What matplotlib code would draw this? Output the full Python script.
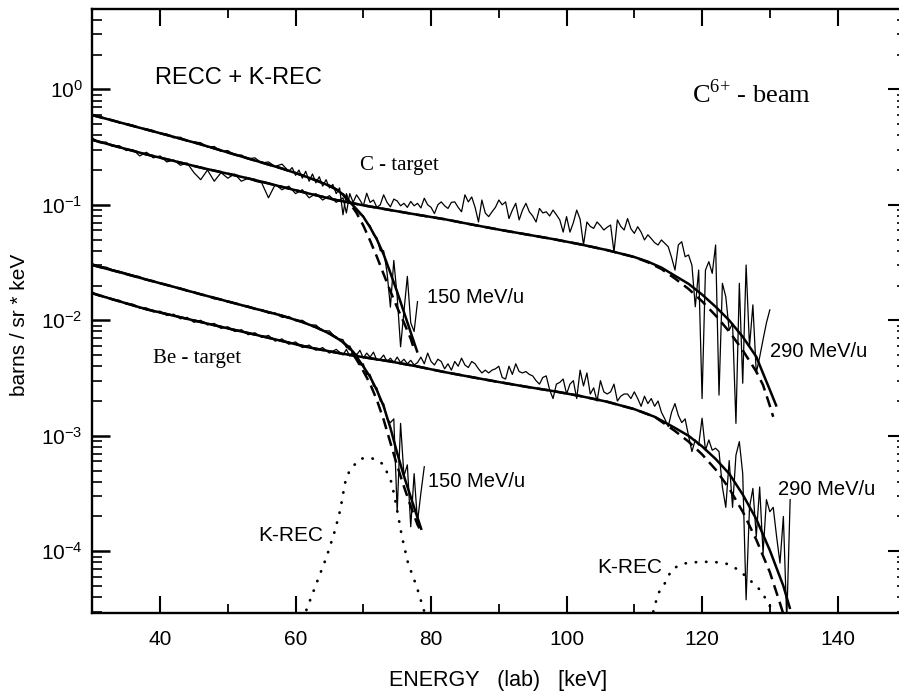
import numpy as np
import matplotlib
matplotlib.use('Agg')
import matplotlib.pyplot as plt
from matplotlib.ticker import MultipleLocator, LogLocator, NullFormatter

plt.rcParams['font.family'] = ['Liberation Sans', 'DejaVu Sans']
plt.rcParams['mathtext.fontset'] = 'custom'
plt.rcParams['mathtext.rm'] = 'Liberation Sans'
plt.rcParams['mathtext.it'] = 'Liberation Sans:italic'
plt.rcParams['mathtext.bf'] = 'Liberation Sans:bold'
plt.rcParams['axes.unicode_minus'] = False

# ---------------- measured spectra (thin lines) ----------------
# coarse part: 1 keV channels from 30 keV; fine part: 0.5 keV channels
c150_coarse = [0.61, 0.585, 0.56, 0.545, 0.51, 0.505, 0.49, 0.46, 0.455, 0.44,
               0.415, 0.41, 0.38, 0.385, 0.355, 0.35, 0.345, 0.315, 0.32, 0.29,
               0.295, 0.27, 0.27, 0.25, 0.255, 0.23, 0.235, 0.215, 0.225, 0.195]
c150_fine_start = 59.5
c150_fine = [0.21, 0.18, 0.20, 0.17, 0.195, 0.16, 0.185, 0.155, 0.175, 0.145,
             0.165, 0.14, 0.15, 0.125, 0.14, 0.082, 0.125, 0.105, 0.098, 0.09,
             0.083, 0.08, 0.07, 0.066, 0.055, 0.052, 0.04, 0.04, 0.026, 0.013,
             0.033, 0.016, 0.0059, 0.012, 0.024, 0.0095, 0.008, 0.0145]

c290_coarse = [0.38, 0.345, 0.35, 0.32, 0.325, 0.295, 0.30, 0.265, 0.285, 0.255,
               0.265, 0.235, 0.245, 0.22, 0.23, 0.19, 0.165, 0.20, 0.16, 0.19,
               0.17, 0.185, 0.16, 0.17, 0.16, 0.155, 0.115, 0.15, 0.135, 0.145,
               0.125, 0.135, 0.115, 0.125, 0.11, 0.12, 0.105, 0.115]
c290_fine_start = 67.5
c290_fine = [0.085, 0.125, 0.105, 0.122, 0.11, 0.098, 0.126, 0.105, 0.11, 0.095,
             0.10, 0.122, 0.105, 0.096, 0.112, 0.108, 0.098, 0.103, 0.095, 0.107,
             0.098, 0.103, 0.094, 0.114, 0.10, 0.095, 0.084, 0.10, 0.106, 0.098,
             0.093, 0.105, 0.106, 0.095, 0.087, 0.122, 0.106, 0.117, 0.095, 0.071,
             0.11, 0.085, 0.079, 0.087, 0.095, 0.11, 0.10, 0.106, 0.076, 0.09,
             0.103, 0.074, 0.09, 0.103, 0.087, 0.08, 0.071, 0.093, 0.085, 0.087,
             0.08, 0.09, 0.082, 0.074, 0.058, 0.079, 0.058, 0.07, 0.09, 0.075,
             0.045, 0.071, 0.065, 0.0625, 0.071, 0.066, 0.0605, 0.064, 0.0668, 0.039,
             0.074, 0.065, 0.0605, 0.076, 0.062, 0.0566, 0.0646, 0.058, 0.0496, 0.055,
             0.051, 0.047, 0.0449, 0.0496, 0.0464, 0.0434, 0.035, 0.0272, 0.045, 0.0479,
             0.0355, 0.0368, 0.03, 0.0131, 0.0272, 0.0021, 0.0272, 0.0322, 0.0255, 0.0449,
             0.00225, 0.0209, 0.016, 0.0082, 0.0094, 0.00128, 0.0209, 0.00285, 0.0301, 0.0059,
             0.0136, 0.0035, 0.0048, 0.0068, 0.0095, 0.0123]

be150_coarse = [0.031, 0.0293, 0.0289, 0.0274, 0.0266, 0.0256, 0.0246, 0.0239, 0.0223, 0.0221,
                0.0208, 0.0203, 0.0193, 0.0190, 0.0178, 0.0176, 0.0167, 0.0163, 0.0153, 0.0153,
                0.0143, 0.0142, 0.0134, 0.0133, 0.0124, 0.0124, 0.0115, 0.0116, 0.0106, 0.0108,
                0.0099, 0.0100, 0.0091, 0.0091, 0.0081, 0.0081, 0.0070, 0.0068]
be150_fine_start = 67.5
be150_fine = [0.0058, 0.0060, 0.0050, 0.0051, 0.0041, 0.0042, 0.0034, 0.0034, 0.0027, 0.0026,
              0.0020, 0.0019, 0.0014, 0.0013, 0.0014, 0.00022, 0.00128, 0.00045, 0.00056, 0.000163,
              0.00047, 0.00018, 0.00032, 0.00054]

be290_coarse = [0.0176, 0.0162, 0.0160, 0.0150, 0.0149, 0.0138, 0.0138, 0.0127, 0.0128, 0.0118,
                0.0120, 0.0110, 0.0113, 0.0103, 0.0106, 0.0096, 0.0100, 0.0091, 0.0094, 0.0085,
                0.0088, 0.0080, 0.0083, 0.0075, 0.0078, 0.0071, 0.0074, 0.0066, 0.0069, 0.0062,
                0.0065, 0.0058, 0.0061, 0.0055, 0.0058, 0.0052, 0.0056, 0.0050]
be290_fine_start = 67.5
be290_fine = [0.0056, 0.0049, 0.0054, 0.0050, 0.0055, 0.0047, 0.0052, 0.0048, 0.0053, 0.0045,
              0.0046, 0.0050, 0.0044, 0.0047, 0.0043, 0.0048, 0.0043, 0.0046, 0.0042, 0.0045,
              0.0041, 0.0043, 0.0048, 0.0042, 0.0052, 0.0044, 0.0041, 0.0046, 0.0044, 0.0038,
              0.0042, 0.0037, 0.0044, 0.0040, 0.0047, 0.0041, 0.0039, 0.0044, 0.0042, 0.0038,
              0.0035, 0.0037, 0.0035, 0.0037, 0.0038, 0.0040, 0.0032, 0.0031, 0.0040, 0.0034,
              0.0042, 0.0036, 0.0035, 0.0036, 0.0034, 0.0033, 0.0030, 0.0028, 0.0032, 0.0033,
              0.0025, 0.0021, 0.0028, 0.0029, 0.0031, 0.0023, 0.0028, 0.0030, 0.0021, 0.0037,
              0.0027, 0.0035, 0.0023, 0.0026, 0.0020, 0.0030, 0.0024, 0.0023, 0.0024, 0.0028,
              0.0020, 0.0022, 0.0023, 0.0023, 0.0021, 0.0024, 0.0021, 0.0018, 0.0022, 0.0019,
              0.0021, 0.0018, 0.0020, 0.0016, 0.0014, 0.0012, 0.0016, 0.0019, 0.0015, 0.0013,
              0.0014, 0.0010, 0.00073, 0.00092, 0.00083, 0.00142, 0.00075, 0.00092, 0.00075, 0.00078,
              0.00073, 0.00036, 0.00024, 0.00061, 0.00024, 0.00068, 0.00089, 0.00047, 0.000038, 0.00024,
              0.00035, 0.000134, 0.00036, 0.000096, 0.00028, 0.00022, 0.00024, 0.000134, 0.000079, 0.0002,
              0.000025, 0.00028]

# ---------------- fit curves (thick solid) and alternative fits (dashed) ----------------
fit_c150_x = [30, 34, 38, 42, 46, 50, 54, 58, 61, 63, 65, 66, 67, 68, 69, 70, 71, 72, 73, 74, 75, 76, 77, 78]
fit_c150_y = [0.598, 0.518, 0.448, 0.388, 0.334, 0.284, 0.242, 0.206, 0.180, 0.163, 0.146, 0.136,
              0.123, 0.106, 0.0916, 0.0789, 0.0638, 0.0501, 0.0372, 0.0257, 0.0176, 0.01175,
              0.00785, 0.00525]
dash_c150_x = [30, 34, 38, 42, 46, 50, 54, 58, 61, 63, 65, 66, 67, 68, 69, 70, 71, 72, 73, 74, 75, 76, 77, 77.6]
dash_c150_y = [0.598, 0.518, 0.448, 0.388, 0.334, 0.284, 0.242, 0.206, 0.180, 0.163, 0.146, 0.136,
               0.123, 0.1035, 0.0851, 0.0661, 0.0490, 0.0355, 0.0251, 0.0178, 0.0129, 0.00955,
               0.00692, 0.00537]

fit_c290_x = [30, 34, 38, 42, 46, 50, 54, 58, 62, 66, 70, 74, 78, 82, 86, 90, 94, 98, 102, 106,
              110, 112, 114, 116, 118, 120, 122, 124, 126, 128, 129, 130, 131]
fit_c290_y = [0.365, 0.315, 0.273, 0.240, 0.210, 0.186, 0.164, 0.143, 0.125, 0.110, 0.099, 0.090,
              0.082, 0.075, 0.0675, 0.061, 0.0555, 0.0505, 0.0455, 0.0405, 0.0353, 0.0322, 0.0286,
              0.0243, 0.0207, 0.0167, 0.0131, 0.0100, 0.0072, 0.00484, 0.00347, 0.0025, 0.00179]
dash_c290_x = [30, 34, 38, 42, 46, 50, 54, 58, 62, 66, 70, 74, 78, 82, 86, 90, 94, 98, 102, 106,
               110, 112, 114, 116, 118, 120, 122, 124, 126, 128, 129, 130, 130.5]
dash_c290_y = [0.365, 0.315, 0.273, 0.240, 0.210, 0.186, 0.164, 0.143, 0.125, 0.110, 0.099, 0.090,
               0.082, 0.075, 0.0675, 0.061, 0.0555, 0.0505, 0.0455, 0.0405, 0.0353, 0.0318, 0.0278,
               0.0230, 0.0187, 0.0146, 0.0110, 0.0080, 0.0055, 0.0036, 0.00275, 0.00182, 0.00146]

fit_be150_x = [30, 34, 38, 42, 46, 50, 54, 58, 61, 63, 65, 66, 67, 68, 69, 70, 71, 72, 73, 74, 75,
               76, 77, 78, 78.6]
fit_be150_y = [0.0301, 0.0261, 0.0225, 0.0195, 0.0168, 0.01456, 0.01262, 0.01096, 0.00966, 0.00871,
               0.00767, 0.00708, 0.00646, 0.00578, 0.00484, 0.00398, 0.00324, 0.00248, 0.0018,
               0.00117, 0.000708, 0.000447, 0.000295, 0.000195, 0.000153]
dash_be150_x = [30, 34, 38, 42, 46, 50, 54, 58, 61, 63, 65, 66, 67, 68, 69, 70, 71, 72, 73, 74, 75,
                76, 77, 78, 78.3]
dash_be150_y = [0.0301, 0.0261, 0.0225, 0.0195, 0.0168, 0.01456, 0.01262, 0.01096, 0.00966, 0.00871,
                0.00767, 0.00708, 0.00646, 0.00562, 0.00457, 0.00363, 0.00282, 0.00204, 0.00138,
                0.00087, 0.00055, 0.000363, 0.000245, 0.00017, 0.000158]

fit_be290_x = [30, 34, 38, 42, 46, 50, 54, 58, 62, 66, 70, 74, 78, 82, 86, 90, 94, 98, 102, 106,
               110, 113, 116, 118, 120, 122, 124, 126, 128, 130, 132, 133]
fit_be290_y = [0.01714, 0.01459, 0.01245, 0.01096, 0.00966, 0.00851, 0.00752, 0.00662, 0.00582,
               0.00525, 0.00479, 0.0044, 0.00398, 0.00356, 0.00322, 0.00292, 0.00266, 0.00244,
               0.00221, 0.00197, 0.0017, 0.00146, 0.00117, 0.001, 0.00081, 0.00063, 0.00047,
               0.00031, 0.00019, 0.000102, 0.00005, 0.0000316]
dash_be290_x = [30, 34, 38, 42, 46, 50, 54, 58, 62, 66, 70, 74, 78, 82, 86, 90, 94, 98, 102, 106,
                110, 113, 116, 118, 120, 122, 124, 126, 128, 130, 131.5, 132.3]
dash_be290_y = [0.01714, 0.01459, 0.01245, 0.01096, 0.00966, 0.00851, 0.00752, 0.00662, 0.00582,
                0.00525, 0.00479, 0.0044, 0.00398, 0.00356, 0.00322, 0.00292, 0.00266, 0.00244,
                0.00221, 0.00197, 0.0017, 0.00146, 0.0011, 0.00089, 0.00069, 0.00051, 0.00035,
                0.00022, 0.000126, 0.000066, 0.0000355, 0.000025]

# ---------------- K-REC contributions (dotted) ----------------
krec1_x = [61.6, 63.1, 64.6, 65.8, 66.6, 67.3, 68.0, 69.5, 70.5, 71.2, 72.2, 73.0, 74.2, 74.9,
           75.7, 76.6, 77.9, 79.0]
krec1_y = [3.1e-5, 5.3e-5, 9.0e-5, 1.5e-4, 2.28e-4, 3.9e-4, 5.06e-4, 6.3e-4, 6.45e-4, 6.4e-4,
           6.1e-4, 5.6e-4, 3.9e-4, 2.43e-4, 1.34e-4, 7.9e-5, 4.9e-5, 3.0e-5]
krec2_x = [112.8, 113.5, 114.3, 115.5, 116.5, 117.7, 119.7, 121.7, 123.6, 125.4, 127.1, 128.6,
           129.8, 130.4]
krec2_y = [3.0e-5, 4.3e-5, 5.0e-5, 6.9e-5, 7.5e-5, 7.9e-5, 8.1e-5, 8.1e-5, 7.8e-5, 6.9e-5,
           5.6e-5, 4.6e-5, 3.55e-5, 3.0e-5]


def channels(coarse, fine_start, fine):
    xc = 30 + np.arange(len(coarse), dtype=float)
    xf = fine_start + 0.5 * np.arange(len(fine))
    return np.concatenate([xc, xf]), np.concatenate([coarse, fine])


W, H = 899, 694
L, R, T, B = 92.3, 899.5, 9.0, 613.0
fig = plt.figure(figsize=(W / 100, H / 100), dpi=100)
ax = fig.add_axes([L / W, 1 - B / H, (R - L) / W, (B - T) / H])
ax.set_yscale('log')
ax.set_xlim(30, 149.14)
ax.set_ylim(2.92e-5, 4.96)

# data
for coarse, fs, fine in [(c150_coarse, c150_fine_start, c150_fine),
                         (c290_coarse, c290_fine_start, c290_fine),
                         (be150_coarse, be150_fine_start, be150_fine),
                         (be290_coarse, be290_fine_start, be290_fine)]:
    xx, yy = channels(coarse, fs, fine)
    ax.plot(xx, yy, color='black', lw=0.9, zorder=2)

# dashed alternative fits
for xx, yy in [(dash_c150_x, dash_c150_y), (dash_c290_x, dash_c290_y),
               (dash_be150_x, dash_be150_y), (dash_be290_x, dash_be290_y)]:
    ax.plot(xx, yy, color='black', lw=1.8, dashes=(4.5, 2.5), zorder=3)

# solid fits
for xx, yy in [(fit_c150_x, fit_c150_y), (fit_c290_x, fit_c290_y),
               (fit_be150_x, fit_be150_y), (fit_be290_x, fit_be290_y)]:
    ax.plot(xx, yy, color='black', lw=1.8, zorder=4, solid_capstyle='butt')

# K-REC dotted
for xx, yy in [(krec1_x, krec1_y), (krec2_x, krec2_y)]:
    ax.plot(xx, yy, color='black', lw=2.0, dashes=(0.1, 3.6), dash_capstyle='round', zorder=3)

# texts
serif = ['Liberation Serif', 'DejaVu Serif']
ax.text(39.25, 1.25, 'RECC + K-REC', fontsize=17, ha='left', va='center')
ax.text(118.5, 0.76, r'C$^{\mathdefault{6}\mathdefault{+}}$ - beam', fontsize=19,
        ha='left', va='baseline', family=serif)
ax.text(69.5, 0.2, 'C - target', fontsize=15, ha='left', va='baseline', family=serif)
ax.text(38.96, 4.27e-3, 'Be - target', fontsize=15, ha='left', va='baseline', family=serif)
ax.text(79.4, 0.0159, '150 MeV/u', fontsize=14.5, ha='left', va='center')
ax.text(130.0, 5.4e-3, '290 MeV/u', fontsize=14.5, ha='left', va='center')
ax.text(79.55, 3.98e-4, '150 MeV/u', fontsize=14.5, ha='left', va='center')
ax.text(131.2, 3.4e-4, '290 MeV/u', fontsize=14.5, ha='left', va='center')
ax.text(54.5, 1.38e-4, 'K-REC', fontsize=15, ha='left', va='center')
ax.text(104.5, 7.3e-5, 'K-REC', fontsize=15, ha='left', va='center')

# axes labels
ax.set_xlabel('ENERGY   (lab)   [keV]', fontsize=15.5)
ax.xaxis.set_label_coords(0.503, -0.094)
ax.set_ylabel('barns / sr * keV', fontsize=15)
ax.yaxis.set_label_coords(-0.079, 0.477)

# ticks
ax.xaxis.set_major_locator(MultipleLocator(20))
ax.xaxis.set_minor_locator(MultipleLocator(10))
ax.yaxis.set_major_locator(LogLocator(base=10, numticks=20))
ax.yaxis.set_minor_locator(LogLocator(base=10, subs=np.arange(2, 10), numticks=20))
ax.yaxis.set_minor_formatter(NullFormatter())

ax2 = ax.twinx()
ax2.set_yscale('log')
ax2.set_ylim(ax.get_ylim())
ax2.yaxis.set_major_locator(LogLocator(base=10, numticks=20))
ax2.yaxis.set_minor_locator(LogLocator(base=10, subs=np.arange(2, 10), numticks=20))
ax2.tick_params(axis='y', which='major', direction='in', length=8.5, width=1.5,
                labelright=False, right=True)
ax2.tick_params(axis='y', which='minor', direction='in', length=2.2, width=1.2,
                labelright=False, right=True)
for s in ax2.spines.values():
    s.set_visible(False)

ax.tick_params(axis='x', which='major', direction='in', length=12.5, width=1.5,
               top=True, bottom=True, labelsize=15, pad=12)
ax.tick_params(axis='x', which='minor', direction='in', length=6.5, width=1.3,
               top=True, bottom=True)
ax.tick_params(axis='y', which='major', direction='in', length=13, width=1.8,
               left=True, right=False, labelsize=15, pad=7)
ax.tick_params(axis='y', which='minor', direction='in', length=7, width=1.2,
               left=True, right=False)

for name in ['left', 'bottom', 'top']:
    ax.spines[name].set_linewidth(1.7)
ax.spines['right'].set_visible(False)

fig.savefig('out.png', dpi=100)
